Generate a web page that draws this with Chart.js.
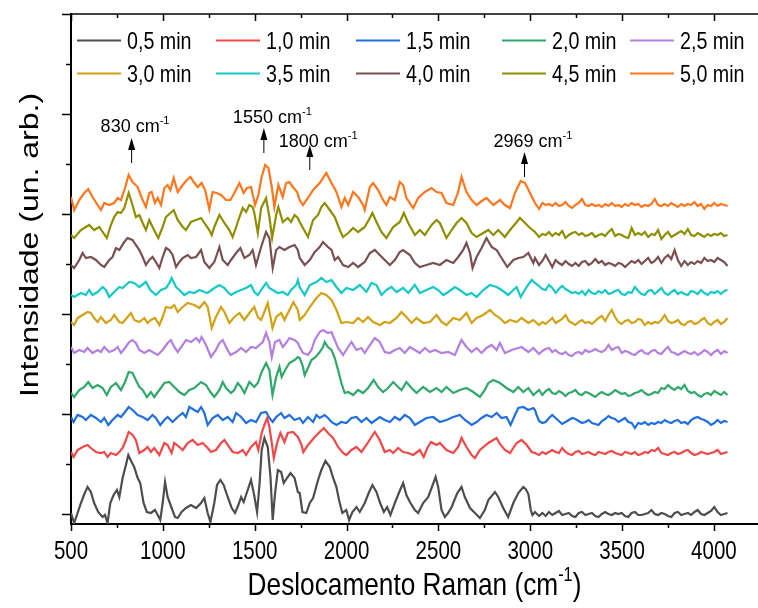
<!DOCTYPE html>
<html>
<head>
<meta charset="utf-8">
<script src="https://cdn.jsdelivr.net/npm/chart.js@4/dist/chart.umd.min.js"></script>
<style>
  html, body { margin: 0; padding: 0; background: #fff; }
  canvas { display: block; }
</style>
</head>
<body>
<canvas id="raman" width="758" height="608"></canvas>
<script>
// Raman spectra recorded every 0,5 min, stacked with a vertical offset.
// Each trace: [Raman shift (cm-1), intensity (arb. units, offset included)]
const trace05 = [[500,0.1],[517,-0.9],[536,0.1],[554,1.1],[575,2.1],[590,2.7],[608,2.2],[626,1.1],[648,0.2],[672,-0.3],[685,-0.1],[699,-0.9],[714,1.1],[732,1.9],[750,2.4],[763,1.7],[781,3.6],[799,4.9],[812,5.9],[830,5.2],[844,4.7],[863,3.6],[877,3.1],[895,1.1],[913,0.2],[935,0.1],[957,0.4],[972,-0.1],[986,-0.6],[999,1.1],[1012,3.2],[1026,1.7],[1048,0.6],[1066,-0.3],[1081,-0.4],[1102,0.2],[1126,0.6],[1153,0.9],[1181,0.6],[1208,1.1],[1226,1.6],[1244,0.1],[1259,-0.8],[1280,1.1],[1295,2.9],[1313,3.4],[1331,2.9],[1353,1.7],[1375,0.6],[1393,0.1],[1411,0.9],[1426,1.7],[1440,1.2],[1462,2.4],[1480,3.4],[1495,2.1],[1513,0.2],[1526,2.9],[1538,6.4],[1553,7.6],[1571,6.7],[1586,3.7],[1598,-0.6],[1611,2.1],[1626,4.4],[1644,4.2],[1658,3.1],[1676,3.6],[1695,4.1],[1717,3.6],[1735,2.2],[1745,2.1],[1760,0.2],[1781,0.1],[1800,1.1],[1818,1.6],[1845,3.4],[1863,4.4],[1885,5.3],[1909,4.7],[1927,3.6],[1945,2.7],[1959,1.4],[1977,0.1],[1999,0.4],[2014,-0.6],[2032,0.2],[2054,0.7],[2072,0.2],[2099,1.1],[2123,2.2],[2141,2.9],[2163,2.2],[2181,1.2],[2203,0.2],[2221,0.7],[2239,-0.1],[2263,1.1],[2287,2.2],[2308,3.1],[2326,1.9],[2345,1.2],[2372,0.4],[2390,0.1],[2417,1.1],[2445,1.7],[2485,3.7],[2499,2.7],[2517,0.4],[2535,-0.3],[2553,0.1],[2572,0.7],[2603,2.1],[2626,2.7],[2644,1.7],[2672,0.6],[2699,0.1],[2726,-0.4],[2753,0.4],[2772,1.4],[2808,2.2],[2826,1.7],[2853,0.6],[2880,-0.3],[2908,1.1],[2935,2.1],[2962,2.7],[2975,2.5],[2990,2.0],[3003,0.4],[3012,-0.1],[3026,0.2],
  [3048,-0.2],[3066,0.1],[3084,-0.2],[3102,0.2],[3120,-0.1],[3138,0.1],[3156,0.3],[3174,-0.1],[3192,0.0],[3210,0.1],[3228,-0.2],[3246,-0.3],[3264,0.1],[3282,0.2],[3300,-0.1],[3318,0.0],[3336,0.1],[3354,-0.2],[3372,-0.3],[3390,0.0],[3408,0.2],[3426,0.0],[3444,-0.1],[3462,0.1],[3480,0.0],[3498,0.1],[3516,-0.2],[3534,-0.3],[3552,0.1],[3570,0.2],[3588,-0.1],[3606,-0.1],[3624,0.0],[3642,0.1],[3660,0.4],[3678,0.0],[3696,-0.1],[3714,0.1],[3732,0.0],[3750,-0.2],[3768,-0.3],[3786,0.1],[3804,0.2],[3822,-0.1],[3840,0.0],[3858,0.1],[3876,-0.1],[3894,0.2],[3912,0.4],[3930,0.0],[3948,-0.1],[3966,0.1],[3984,0.3],[4002,0.7],[4020,0.2],[4038,-0.1],[4056,0.0],[4074,0.1]];

const trace10 = [[500,6.2],[514,5.7],[536,6.4],[563,6.7],[590,6.9],[608,6.6],[636,6.2],[663,6.1],[681,6.2],[699,5.7],[717,6.1],[745,5.9],[763,6.2],[781,6.6],[799,7.4],[814,8.2],[835,7.9],[853,7.4],[872,6.1],[899,6.4],[917,6.7],[935,6.2],[953,6.6],[981,5.9],[1008,7.1],[1026,6.9],[1048,6.1],[1062,7.1],[1090,6.7],[1108,6.4],[1135,7.1],[1162,7.4],[1190,6.9],[1217,7.1],[1244,6.6],[1262,6.2],[1289,6.4],[1317,7.1],[1335,7.4],[1353,6.9],[1380,6.2],[1408,6.1],[1435,6.4],[1453,5.9],[1480,6.7],[1507,7.2],[1520,6.4],[1538,8.1],[1557,9.1],[1568,9.6],[1580,8.7],[1593,7.1],[1604,5.6],[1622,7.1],[1640,8.1],[1662,7.2],[1680,8.1],[1708,8.2],[1735,7.7],[1753,7.0],[1765,6.2],[1790,6.9],[1827,7.7],[1854,8.2],[1876,8.6],[1899,8.1],[1927,7.6],[1954,6.7],[1981,6.1],[1999,5.9],[2027,6.4],[2054,6.7],[2081,6.2],[2108,6.9],[2136,7.7],[2154,8.2],[2181,7.4],[2208,6.2],[2236,6.4],[2254,6.1],[2281,6.6],[2308,6.2],[2336,6.1],[2363,5.9],[2399,6.4],[2420,5.7],[2440,6.6],[2460,7.2],[2490,6.9],[2508,7.1],[2544,6.4],[2581,6.1],[2608,6.7],[2626,7.6],[2653,6.7],[2681,5.9],[2699,5.6],[2726,6.4],[2772,7.1],[2799,7.4],[2817,7.6],[2835,7.0],[2862,6.4],[2890,6.1],[2926,7.1],[2953,7.4],[2981,6.9],[3008,6.2],[3026,6.1],
  [3048,5.9],[3066,6.2],[3084,6.0],[3102,6.2],[3120,6.4],[3138,6.2],[3156,6.1],[3174,6.6],[3192,6.2],[3210,6.0],[3228,5.9],[3246,6.2],[3264,6.3],[3282,6.0],[3300,6.1],[3318,6.2],[3336,6.0],[3354,5.9],[3372,6.2],[3390,6.1],[3408,6.0],[3426,6.2],[3444,6.3],[3462,6.1],[3480,6.0],[3498,5.9],[3516,6.2],[3534,6.1],[3552,6.0],[3570,6.2],[3588,5.9],[3606,6.0],[3624,6.2],[3642,6.1],[3660,6.4],[3678,6.3],[3696,6.6],[3714,6.1],[3732,6.0],[3750,5.9],[3768,6.1],[3786,6.2],[3804,6.0],[3822,6.1],[3840,6.3],[3858,6.4],[3876,6.1],[3894,5.9],[3912,6.0],[3930,6.2],[3948,6.1],[3966,6.0],[3984,6.1],[4002,6.2],[4020,6.4],[4038,6.0],[4056,6.1],[4074,6.2]];

const trace15 = [[500,9.7],[514,9.2],[536,9.9],[563,9.7],[581,9.4],[608,9.9],[636,9.6],[663,9.2],[681,9.6],[703,8.9],[726,9.4],[754,9.9],[772,9.7],[794,10.2],[814,10.7],[835,10.4],[863,9.9],[890,9.7],[917,9.4],[944,9.9],[962,9.6],[986,8.9],[1008,9.4],[1026,9.7],[1053,9.2],[1081,9.7],[1108,10.1],[1126,9.7],[1144,10.7],[1171,10.4],[1190,10.2],[1208,10.7],[1226,10.1],[1244,8.9],[1271,9.6],[1299,9.9],[1326,9.4],[1353,9.7],[1380,9.2],[1399,10.1],[1426,9.7],[1453,9.1],[1480,9.4],[1507,9.2],[1535,10.1],[1562,10.2],[1580,9.6],[1598,9.2],[1617,9.7],[1644,10.1],[1662,9.6],[1689,9.9],[1717,9.4],[1745,9.6],[1763,9.1],[1790,9.7],[1818,9.2],[1836,9.9],[1854,9.6],[1881,9.9],[1899,9.6],[1918,9.2],[1945,8.9],[1972,9.2],[1999,9.1],[2027,9.6],[2054,9.7],[2081,9.2],[2108,9.6],[2136,9.1],[2181,9.7],[2208,9.4],[2236,9.2],[2263,9.7],[2290,9.4],[2317,9.9],[2345,9.6],[2372,8.9],[2399,9.2],[2435,9.6],[2472,9.7],[2508,9.2],[2544,9.4],[2581,9.7],[2617,9.9],[2645,9.4],[2681,8.9],[2708,9.2],[2735,9.6],[2762,9.9],[2790,9.7],[2817,10.1],[2844,9.6],[2871,9.7],[2893,8.9],[2917,9.9],[2935,10.6],[2962,10.7],[2990,10.4],[3017,10.6],[3026,10.4],[3035,9.9],
  [3048,9.3],[3066,9.1],[3084,9.2],[3102,9.6],[3120,9.9],[3138,9.6],[3156,9.3],[3174,9.0],[3192,9.2],[3210,9.4],[3228,9.6],[3246,9.5],[3264,9.3],[3282,9.1],[3300,9.2],[3318,9.4],[3336,9.1],[3354,9.0],[3372,8.9],[3390,9.3],[3408,9.5],[3426,9.8],[3444,9.6],[3462,9.5],[3480,9.2],[3498,9.4],[3516,9.6],[3534,9.2],[3552,9.1],[3570,8.6],[3588,9.1],[3606,9.0],[3624,9.2],[3642,8.9],[3660,9.1],[3678,9.0],[3696,9.2],[3714,9.1],[3732,9.4],[3750,9.2],[3768,9.1],[3786,9.3],[3804,9.4],[3822,9.1],[3840,9.2],[3858,9.0],[3876,9.4],[3894,9.6],[3912,9.7],[3930,9.5],[3948,9.4],[3966,9.2],[3984,8.9],[4002,9.1],[4020,9.4],[4038,9.1],[4056,9.3],[4074,9.2]];

const trace20 = [[500,12.1],[517,11.7],[545,12.4],[572,12.7],[594,13.2],[617,12.6],[645,12.9],[672,12.6],[695,11.9],[717,12.7],[745,13.1],[772,12.4],[794,13.2],[814,14.2],[835,14.1],[853,13.4],[872,12.7],[890,12.4],[913,11.7],[935,12.2],[953,11.7],[981,12.4],[1008,13.1],[1035,13.2],[1062,12.7],[1090,12.2],[1117,11.9],[1144,12.4],[1171,12.6],[1208,13.2],[1235,12.9],[1259,12.2],[1280,11.7],[1308,12.4],[1326,13.2],[1344,12.6],[1371,12.1],[1389,12.4],[1408,13.1],[1426,12.7],[1444,12.1],[1471,13.2],[1498,12.7],[1517,13.1],[1538,14.2],[1562,15.1],[1580,14.4],[1597,11.9],[1617,13.7],[1635,14.7],[1647,13.7],[1666,14.4],[1689,15.1],[1717,15.4],[1735,15.7],[1745,15.6],[1760,14.9],[1772,13.9],[1790,14.6],[1809,15.4],[1832,15.7],[1854,16.2],[1872,16.7],[1881,17.2],[1899,16.7],[1918,16.4],[1936,15.6],[1954,14.4],[1972,13.1],[1990,12.1],[2009,12.2],[2036,11.9],[2063,12.4],[2090,12.1],[2117,12.6],[2148,13.4],[2172,12.7],[2199,12.2],[2226,12.6],[2254,13.2],[2281,12.7],[2299,12.4],[2326,13.2],[2354,12.6],[2381,12.1],[2417,12.7],[2454,12.2],[2490,12.6],[2517,12.2],[2544,12.7],[2581,12.1],[2617,12.4],[2653,12.6],[2690,12.2],[2726,11.7],[2753,12.4],[2772,13.1],[2799,13.4],[2835,13.1],[2871,12.6],[2908,12.2],[2935,12.7],[2962,12.2],[2990,12.6],[3017,11.9],
  [3048,12.4],[3066,11.9],[3084,12.3],[3102,12.5],[3120,12.1],[3138,12.0],[3156,12.3],[3174,12.1],[3192,11.8],[3210,12.1],[3228,12.2],[3246,12.4],[3264,12.0],[3282,11.9],[3300,12.2],[3318,12.1],[3336,11.9],[3354,11.7],[3372,12.0],[3390,12.2],[3408,12.0],[3426,11.9],[3444,12.1],[3462,12.4],[3480,12.2],[3498,12.0],[3516,12.1],[3534,11.8],[3552,11.9],[3570,12.1],[3588,12.2],[3606,12.4],[3624,12.1],[3642,11.9],[3660,12.0],[3678,12.2],[3696,12.1],[3714,12.6],[3732,12.5],[3750,12.9],[3768,12.6],[3786,12.4],[3804,12.7],[3822,12.5],[3840,12.9],[3858,12.3],[3876,12.1],[3894,12.2],[3912,11.9],[3930,11.7],[3948,12.0],[3966,12.1],[3984,11.9],[4002,12.3],[4020,12.1],[4038,11.9],[4056,12.2],[4074,11.9]];

const trace25 = [[500,16.7],[517,16.1],[545,16.4],[572,16.2],[590,16.6],[617,16.1],[645,16.4],[663,16.2],[681,16.7],[708,16.2],[735,16.4],[754,16.7],[772,16.1],[794,16.6],[817,17.2],[835,17.4],[853,17.1],[872,16.4],[899,16.1],[926,16.4],[953,16.1],[972,15.9],[999,16.4],[1026,17.1],[1044,17.4],[1062,16.7],[1081,16.2],[1108,16.9],[1126,17.4],[1153,17.2],[1181,17.6],[1199,17.2],[1211,17.7],[1235,16.9],[1262,15.7],[1289,16.4],[1308,17.1],[1326,17.4],[1344,16.7],[1368,15.9],[1399,16.2],[1426,16.6],[1453,16.2],[1480,16.7],[1507,16.6],[1544,17.2],[1562,18.1],[1580,17.2],[1593,15.7],[1611,17.2],[1635,17.4],[1653,16.7],[1671,17.1],[1689,17.6],[1717,17.4],[1735,17.1],[1745,16.7],[1763,16.1],[1790,15.9],[1809,16.4],[1827,17.4],[1854,18.2],[1872,18.4],[1899,18.1],[1918,18.2],[1936,17.4],[1954,16.6],[1981,15.9],[2009,16.7],[2027,17.2],[2054,16.4],[2081,16.6],[2099,16.1],[2127,16.9],[2154,17.6],[2181,17.2],[2208,16.2],[2236,16.1],[2263,16.4],[2290,16.6],[2317,16.1],[2345,16.7],[2372,16.4],[2399,16.1],[2426,16.6],[2454,16.2],[2481,16.4],[2517,16.1],[2554,16.2],[2590,15.9],[2608,16.7],[2626,17.4],[2653,16.7],[2681,16.2],[2708,16.6],[2735,16.1],[2762,16.6],[2790,16.9],[2817,16.4],[2835,17.1],[2862,16.1],[2899,16.4],[2935,16.6],[2953,16.7],[2990,16.2],[3017,16.6],
  [3048,16.0],[3066,16.3],[3084,16.5],[3102,16.6],[3120,16.2],[3138,16.4],[3156,16.1],[3174,16.0],[3192,16.2],[3210,15.9],[3228,15.8],[3246,16.1],[3264,16.2],[3282,16.0],[3300,16.4],[3318,16.2],[3336,16.3],[3354,16.5],[3372,16.3],[3390,16.2],[3408,16.4],[3426,16.9],[3444,16.4],[3462,16.6],[3480,16.7],[3498,16.1],[3516,16.3],[3534,16.2],[3552,16.0],[3570,15.9],[3588,16.2],[3606,16.4],[3624,16.1],[3642,16.0],[3660,16.3],[3678,16.4],[3696,16.1],[3714,16.0],[3732,16.4],[3750,16.7],[3768,16.2],[3786,16.1],[3804,15.9],[3822,16.1],[3840,16.3],[3858,16.1],[3876,16.0],[3894,16.2],[3912,15.9],[3930,16.1],[3948,16.4],[3966,16.2],[3984,15.9],[4002,16.2],[4020,16.4],[4038,16.0],[4056,16.3],[4074,16.1]];

const trace30 = [[500,19.2],[517,18.9],[536,19.6],[563,19.9],[590,20.2],[608,20.1],[626,19.6],[645,19.2],[663,19.7],[690,19.1],[717,19.4],[735,19.9],[763,19.2],[781,19.1],[808,19.7],[826,20.1],[844,19.4],[872,19.2],[899,19.6],[917,19.1],[935,19.4],[957,19.6],[981,18.9],[999,19.7],[1017,20.7],[1044,20.6],[1062,20.9],[1081,20.2],[1108,20.7],[1135,21.1],[1171,20.9],[1199,20.6],[1226,21.2],[1244,20.7],[1266,18.6],[1289,19.7],[1317,20.7],[1335,20.2],[1362,19.1],[1389,19.7],[1417,20.1],[1444,19.4],[1471,20.1],[1498,20.7],[1517,19.7],[1535,19.4],[1557,20.4],[1571,21.1],[1586,19.7],[1597,18.6],[1617,19.7],[1644,20.1],[1662,19.4],[1689,20.4],[1711,21.2],[1735,20.4],[1745,19.4],[1772,19.9],[1800,20.7],[1836,21.6],[1863,22.1],[1890,21.9],[1918,21.4],[1945,20.4],[1972,19.1],[1999,19.2],[2036,19.1],[2063,19.6],[2090,19.2],[2117,19.7],[2145,19.2],[2181,18.9],[2208,19.2],[2236,19.1],[2272,19.6],[2299,20.2],[2326,19.7],[2354,19.1],[2381,19.6],[2417,19.1],[2454,19.2],[2490,19.9],[2517,19.2],[2544,18.9],[2581,19.6],[2617,19.4],[2653,20.1],[2681,19.1],[2708,19.6],[2744,19.9],[2781,20.4],[2808,19.9],[2835,19.6],[2862,19.1],[2890,19.4],[2926,19.2],[2953,19.6],[2990,19.1],[3017,19.4],
  [3048,18.9],[3066,19.2],[3084,19.0],[3102,19.3],[3120,19.6],[3138,19.1],[3156,19.3],[3174,19.5],[3192,19.9],[3210,19.3],[3228,19.1],[3246,18.9],[3264,19.2],[3282,19.4],[3300,19.1],[3318,19.2],[3336,19.0],[3354,19.3],[3372,19.6],[3390,19.8],[3408,19.3],[3426,19.9],[3444,20.4],[3462,19.7],[3480,19.2],[3498,19.0],[3516,19.3],[3534,19.4],[3552,19.1],[3570,19.2],[3588,19.5],[3606,19.4],[3624,18.9],[3642,19.2],[3660,19.0],[3678,19.2],[3696,19.1],[3714,19.4],[3732,19.9],[3750,19.3],[3768,19.1],[3786,19.2],[3804,19.4],[3822,19.0],[3840,18.9],[3858,19.2],[3876,19.3],[3894,19.0],[3912,19.1],[3930,19.4],[3948,19.6],[3966,19.1],[3984,18.9],[4002,19.2],[4020,19.4],[4038,19.0],[4056,19.2],[4074,19.6]];

const trace35 = [[500,21.9],[517,21.7],[554,22.1],[581,21.9],[599,22.4],[617,21.9],[645,22.2],[672,22.7],[690,22.4],[708,21.7],[735,22.2],[763,22.7],[781,22.6],[799,22.9],[817,23.2],[844,23.1],[872,22.7],[908,23.2],[932,22.4],[962,21.9],[990,22.4],[1017,22.6],[1035,23.1],[1048,23.6],[1072,22.7],[1090,22.4],[1117,21.9],[1144,22.2],[1171,22.1],[1199,22.4],[1226,22.2],[1244,22.1],[1280,22.6],[1308,22.9],[1335,22.6],[1353,22.2],[1371,21.9],[1399,22.2],[1426,22.4],[1453,22.6],[1480,22.9],[1498,22.2],[1517,21.9],[1535,22.4],[1562,23.1],[1580,22.6],[1598,22.4],[1626,22.1],[1653,22.2],[1680,21.9],[1698,22.4],[1726,22.9],[1735,23.4],[1745,22.7],[1772,21.9],[1800,22.9],[1836,23.2],[1863,23.6],[1890,23.2],[1918,23.4],[1945,22.7],[1972,22.1],[1999,22.6],[2036,22.4],[2072,22.9],[2108,22.2],[2136,23.1],[2163,22.9],[2190,21.9],[2217,22.4],[2244,22.7],[2272,22.2],[2308,22.6],[2336,22.1],[2372,22.9],[2399,22.1],[2435,22.4],[2472,22.7],[2499,22.4],[2526,21.9],[2554,22.2],[2590,22.7],[2617,22.4],[2653,21.9],[2681,22.1],[2708,21.7],[2744,22.4],[2781,22.9],[2817,22.7],[2844,22.4],[2880,21.9],[2908,22.4],[2926,22.7],[2948,21.7],[2980,22.7],[3008,23.4],[3026,23.1],
  [3048,22.8],[3066,22.5],[3084,22.4],[3102,22.9],[3120,22.6],[3138,22.1],[3156,22.5],[3174,22.8],[3192,22.5],[3210,22.3],[3228,22.1],[3246,22.2],[3264,22.0],[3282,22.3],[3300,21.9],[3318,22.4],[3336,22.1],[3354,22.0],[3372,22.3],[3390,22.1],[3408,22.4],[3426,22.0],[3444,22.1],[3462,22.3],[3480,22.4],[3498,22.0],[3516,21.9],[3534,22.2],[3552,22.1],[3570,22.7],[3588,22.3],[3606,22.0],[3624,21.9],[3642,22.3],[3660,22.4],[3678,22.0],[3696,22.3],[3714,22.6],[3732,22.1],[3750,21.9],[3768,22.2],[3786,22.4],[3804,22.0],[3822,22.2],[3840,22.0],[3858,21.9],[3876,22.3],[3894,22.2],[3912,22.0],[3930,22.4],[3948,22.1],[3966,21.9],[3984,22.2],[4002,22.1],[4020,22.3],[4038,22.0],[4056,22.3],[4074,22.4]];

const trace40 = [[500,24.9],[517,24.6],[545,25.4],[563,26.1],[581,25.6],[608,25.7],[636,25.4],[663,24.9],[681,24.7],[708,25.4],[726,25.7],[745,26.6],[763,26.4],[790,27.2],[808,27.6],[835,27.4],[853,26.9],[872,26.4],[890,25.7],[908,24.9],[926,25.4],[944,25.7],[962,25.2],[981,24.6],[999,25.7],[1017,26.6],[1035,26.4],[1053,25.9],[1072,24.7],[1090,25.2],[1108,25.6],[1135,25.9],[1153,25.6],[1181,25.7],[1208,26.4],[1226,25.2],[1253,24.6],[1280,25.2],[1308,26.7],[1326,25.4],[1353,24.9],[1371,25.4],[1399,26.1],[1422,26.6],[1444,25.6],[1471,25.9],[1489,26.4],[1507,24.9],[1535,26.7],[1562,28.2],[1580,27.6],[1598,24.6],[1617,26.4],[1635,26.7],[1662,26.4],[1689,26.7],[1717,26.9],[1735,26.4],[1745,25.6],[1772,24.9],[1800,25.4],[1827,26.2],[1854,26.7],[1872,27.2],[1899,26.7],[1918,26.4],[1936,25.4],[1954,25.7],[1981,24.9],[2009,24.7],[2036,25.1],[2063,24.7],[2099,25.2],[2127,26.1],[2154,26.4],[2181,25.9],[2208,25.4],[2236,24.9],[2263,25.4],[2290,26.2],[2308,26.4],[2345,25.9],[2372,25.1],[2399,24.7],[2435,24.9],[2472,25.1],[2508,24.9],[2544,25.4],[2581,25.1],[2608,25.7],[2635,26.4],[2653,27.1],[2672,26.1],[2686,24.6],[2708,25.7],[2735,26.6],[2762,27.6],[2790,26.7],[2817,26.4],[2844,25.6],[2875,24.7],[2908,25.4],[2935,25.6],[2962,25.7],[2990,26.1],[3017,25.1],[3026,25.6],
  [3048,24.9],[3066,25.3],[3084,25.9],[3102,25.3],[3120,24.7],[3138,25.4],[3156,25.1],[3174,24.9],[3192,25.3],[3210,25.0],[3228,24.8],[3246,25.1],[3264,24.8],[3282,25.2],[3300,25.3],[3318,24.9],[3336,25.1],[3354,25.5],[3372,25.1],[3390,25.3],[3408,24.9],[3426,25.1],[3444,25.0],[3462,24.8],[3480,25.1],[3498,25.0],[3516,24.7],[3534,25.0],[3552,25.3],[3570,25.1],[3588,25.4],[3606,25.0],[3624,25.3],[3642,25.6],[3660,25.1],[3678,25.3],[3696,25.7],[3714,25.1],[3732,25.6],[3750,25.9],[3768,25.5],[3786,26.4],[3804,25.4],[3822,24.8],[3840,25.3],[3858,24.9],[3876,25.2],[3894,25.0],[3912,25.3],[3930,25.1],[3948,25.6],[3966,25.3],[3984,25.4],[4002,25.2],[4020,25.6],[4038,25.4],[4056,25.2],[4074,24.8]];

const trace45 = [[500,27.9],[517,27.6],[554,28.4],[581,28.7],[599,28.9],[626,28.4],[654,28.7],[672,28.2],[695,27.6],[717,28.9],[735,29.7],[754,30.2],[772,30.1],[790,30.6],[814,32.1],[835,30.9],[853,29.7],[872,29.9],[890,29.1],[908,28.4],[926,29.4],[944,28.7],[975,27.6],[999,28.7],[1017,29.7],[1059,30.4],[1081,29.4],[1108,28.7],[1126,28.4],[1153,29.2],[1181,29.4],[1208,29.6],[1226,29.1],[1253,28.4],[1266,27.9],[1280,28.7],[1308,29.9],[1335,29.1],[1362,28.4],[1380,27.7],[1399,28.7],[1417,29.7],[1435,30.6],[1453,30.2],[1471,30.9],[1489,30.7],[1498,30.1],[1517,28.1],[1535,30.6],[1562,31.6],[1580,29.7],[1595,27.6],[1617,29.9],[1629,30.7],[1653,29.2],[1680,29.6],[1698,29.2],[1717,29.9],[1735,29.6],[1745,29.2],[1763,28.6],[1790,27.7],[1818,29.4],[1845,29.9],[1863,30.7],[1881,31.1],[1909,30.4],[1936,29.7],[1963,28.4],[1981,27.7],[2009,28.1],[2036,28.6],[2063,28.2],[2099,28.7],[2127,29.6],[2141,30.1],[2163,29.2],[2190,28.2],[2217,27.6],[2254,28.7],[2290,29.2],[2312,30.1],[2336,29.1],[2372,27.9],[2399,28.4],[2426,27.9],[2463,28.9],[2490,29.4],[2508,29.1],[2544,27.6],[2572,28.4],[2599,29.1],[2626,29.6],[2653,29.1],[2681,28.1],[2708,27.7],[2744,28.1],[2772,28.4],[2799,27.9],[2826,28.4],[2862,27.7],[2890,28.4],[2922,29.1],[2944,29.6],[2972,29.1],[2999,28.6],[3026,28.2],
  [3048,27.7],[3066,28.0],[3084,27.9],[3102,28.2],[3120,27.8],[3138,28.1],[3156,27.9],[3174,28.3],[3192,27.6],[3210,27.9],[3228,28.1],[3246,28.2],[3264,27.9],[3282,28.1],[3300,27.8],[3318,27.9],[3336,28.1],[3354,27.7],[3372,27.9],[3390,28.0],[3408,27.8],[3426,28.2],[3444,28.5],[3462,27.8],[3480,28.0],[3498,27.9],[3516,27.7],[3534,27.6],[3552,28.6],[3570,27.9],[3588,28.1],[3606,27.9],[3624,28.2],[3642,27.7],[3660,28.0],[3678,27.9],[3696,28.4],[3714,27.5],[3732,27.9],[3750,28.2],[3768,27.7],[3786,27.9],[3804,28.1],[3822,28.3],[3840,28.0],[3858,28.5],[3876,27.9],[3894,27.8],[3912,28.1],[3930,27.9],[3948,27.7],[3966,28.0],[3984,27.8],[4002,28.0],[4020,27.9],[4038,28.1],[4056,27.8],[4074,27.9]];

const trace50 = [[500,31.7],[517,30.4],[545,31.4],[572,32.1],[594,32.5],[617,31.7],[645,30.9],[663,30.4],[681,31.1],[708,30.9],[735,31.1],[754,31.6],[772,31.4],[794,32.6],[814,33.9],[835,33.2],[863,32.7],[890,31.4],[908,30.7],[926,32.1],[939,32.2],[957,31.1],[972,31.6],[990,30.9],[1008,32.6],[1026,32.9],[1041,32.4],[1059,33.6],[1081,32.2],[1108,32.9],[1131,33.4],[1150,33.7],[1168,33.2],[1190,32.7],[1211,33.1],[1230,32.4],[1253,30.5],[1271,32.2],[1293,32.1],[1317,31.9],[1344,31.4],[1368,31.4],[1389,32.1],[1417,33.1],[1440,32.1],[1458,32.6],[1480,32.7],[1502,30.9],[1520,31.9],[1538,33.7],[1557,34.9],[1575,34.6],[1593,32.7],[1607,30.7],[1629,32.9],[1653,31.7],[1671,33.1],[1689,33.2],[1708,32.7],[1731,32.2],[1745,31.4],[1763,30.9],[1790,31.6],[1818,32.4],[1854,33.1],[1890,34.1],[1918,33.1],[1945,32.2],[1972,30.7],[1990,31.6],[2009,30.9],[2036,32.2],[2063,31.7],[2090,30.9],[2099,30.4],[2127,32.7],[2145,33.1],[2172,32.4],[2199,31.4],[2217,30.9],[2236,31.7],[2263,31.4],[2290,33.2],[2308,32.9],[2326,31.6],[2363,30.6],[2390,31.6],[2426,32.2],[2463,32.6],[2490,32.2],[2517,32.1],[2544,31.1],[2581,30.9],[2608,32.2],[2626,33.7],[2653,32.2],[2681,31.4],[2708,30.9],[2744,31.4],[2762,31.6],[2799,30.9],[2835,31.4],[2862,30.9],[2890,30.6],[2917,32.1],[2948,33.3],[2972,33.1],[2999,32.1],[3026,31.1],
  [3048,30.5],[3066,31.1],[3084,30.9],[3102,31.0],[3120,30.8],[3138,31.1],[3156,30.8],[3174,30.9],[3192,31.2],[3210,30.8],[3228,30.6],[3246,30.9],[3264,31.1],[3282,31.5],[3300,30.9],[3318,30.8],[3336,31.0],[3354,30.8],[3372,30.9],[3390,30.7],[3408,31.0],[3426,30.8],[3444,31.1],[3462,30.8],[3480,30.9],[3498,30.7],[3516,31.0],[3534,30.8],[3552,31.1],[3570,30.9],[3588,31.0],[3606,30.7],[3624,30.9],[3642,30.8],[3660,31.0],[3678,31.5],[3696,30.9],[3714,30.8],[3732,31.0],[3750,30.8],[3768,31.1],[3786,30.9],[3804,30.7],[3822,31.0],[3840,30.8],[3858,31.0],[3876,30.9],[3894,31.2],[3912,30.8],[3930,31.0],[3948,30.5],[3966,30.9],[3984,30.8],[4002,31.1],[4020,30.8],[4038,31.0],[4056,30.9],[4074,30.8]];

const seriesLabels = ['0,5 min', '1,0 min', '1,5 min', '2,0 min', '2,5 min',
                      '3,0 min', '3,5 min', '4,0 min', '4,5 min', '5,0 min'];
const seriesColors = ['#4d4d4d', '#f04848', '#1f6fe0', '#2fa86a', '#b47fe0',
                      '#d2a114', '#14c8c8', '#7a4f4f', '#8e8e00', '#ff761c'];
const traces = [trace05, trace10, trace15, trace20, trace25,
                trace30, trace35, trace40, trace45, trace50];

// marked bands
const peakShifts = [830, 1550, 1800, 2969];
const peakLabelLevel = [38.2, 39.1, 36.7, 36.7];
const peakArrowTip = [37.6, 38.6, 36.9, 36.2];
const peakArrowTail = [35.1, 36.1, 34.4, 33.7];

const shiftTicks = [500, 1000, 1500, 2000, 2500, 3000, 3500, 4000];

const FONT = '"Liberation Sans", Arial, Helvetica, sans-serif';
const SQUEEZE = 0.82;

function partsWidth(ctx, parts, size) {
  let w = 0;
  for (const [t, sup] of parts) {
    ctx.font = (sup ? size * 0.62 : size) + 'px ' + FONT;
    w += ctx.measureText(t).width;
  }
  return w;
}
function drawParts(ctx, parts, size, x, y, align, sx, rotate) {
  ctx.save();
  ctx.translate(x, y);
  if (rotate) { ctx.rotate(rotate); ctx.scale(1, sx); } else { ctx.scale(sx, 1); }
  const w = partsWidth(ctx, parts, size);
  let cx = align === 'center' ? -w / 2 : (align === 'right' ? -w : 0);
  ctx.textAlign = 'left';
  ctx.textBaseline = 'alphabetic';
  ctx.fillStyle = '#000';
  for (const [t, sup] of parts) {
    ctx.font = (sup ? size * 0.62 : size) + 'px ' + FONT;
    ctx.fillText(t, cx, sup ? -size * 0.45 : 0);
    cx += ctx.measureText(t).width;
  }
  ctx.restore();
}

const frameAndText = {
  id: 'frameAndText',
  afterDraw(chart) {
    const { ctx, chartArea: a, scales: { x, y } } = chart;
    ctx.save();
    ctx.strokeStyle = '#000';
    ctx.fillStyle = '#000';

    // top frame line
    ctx.lineWidth = 1.5;
    ctx.beginPath(); ctx.moveTo(a.left, a.top); ctx.lineTo(a.right, a.top); ctx.stroke();

    // x ticks: majors on labelled values, minors half-way
    const step = shiftTicks[1] - shiftTicks[0];
    for (let v = shiftTicks[0]; v <= x.max; v += step / 2) {
      const px = Math.round(x.getPixelForValue(v)) + 0.5;
      const major = shiftTicks.includes(v);
      ctx.beginPath(); ctx.moveTo(px, a.bottom); ctx.lineTo(px, a.bottom + (major ? 7 : 4)); ctx.stroke();
      ctx.beginPath(); ctx.moveTo(px, a.top); ctx.lineTo(px, a.top + (major ? 7 : 4)); ctx.stroke();
    }
    // y ticks
    for (let v = 0; v <= y.max; v += 5) {
      const py = Math.round(y.getPixelForValue(v)) + 0.5;
      const major = v % 10 === 0;
      ctx.beginPath(); ctx.moveTo(a.left, py); ctx.lineTo(a.left - (major ? 9 : 5), py); ctx.stroke();
    }

    // x tick labels
    for (const v of shiftTicks) {
      drawParts(ctx, [[String(v), false]], 25, x.getPixelForValue(v), 559, 'center', SQUEEZE);
    }

    // axis titles
    drawParts(ctx, [['Deslocamento Raman (cm', false], ['-1', true], [')', false]],
      32, (a.left + a.right) / 2, 595, 'center', SQUEEZE);
    drawParts(ctx, [['Intensidade (un. arb.)', false]], 32, 38, 245, 'center', SQUEEZE, -Math.PI / 2);

    // legend, two rows of five
    const cols = [77, 216, 356, 502, 630];
    const rows = [40, 73];
    chart.data.datasets.forEach((ds, i) => {
      const cx = cols[i % 5], cy = rows[Math.floor(i / 5)];
      ctx.strokeStyle = ds.borderColor;
      ctx.lineWidth = 2;
      ctx.beginPath(); ctx.moveTo(cx, cy + 0.5); ctx.lineTo(cx + 44, cy + 0.5); ctx.stroke();
      drawParts(ctx, [[ds.label, false]], 24, cx + 50, cy + 8.5, 'left', SQUEEZE);
    });

    // band markers
    ctx.strokeStyle = '#000';
    ctx.fillStyle = '#000';
    peakShifts.forEach((s, i) => {
      const px = x.getPixelForValue(s);
      const tip = y.getPixelForValue(peakArrowTip[i]);
      const tail = y.getPixelForValue(peakArrowTail[i]);
      ctx.lineWidth = 1;
      ctx.beginPath(); ctx.moveTo(px, tip + 10); ctx.lineTo(px, tail); ctx.stroke();
      ctx.beginPath();
      ctx.moveTo(px, tip); ctx.lineTo(px - 3.5, tip + 12); ctx.lineTo(px + 3.5, tip + 12);
      ctx.closePath(); ctx.fill();
      drawParts(ctx, [[s + ' cm', false], ['-1', true]], 18,
        px - 31, y.getPixelForValue(peakLabelLevel[i]), 'left', 1.0);
    });
    ctx.restore();
  }
};

new Chart(document.getElementById('raman'), {
  type: 'line',
  data: {
    datasets: traces.map((t, i) => ({
      label: seriesLabels[i],
      data: t.map(([s, v]) => ({ x: s, y: v })),
      borderColor: seriesColors[i],
      borderWidth: 2.2,
      pointRadius: 0,
      tension: 0,
      fill: false
    }))
  },
  options: {
    responsive: false,
    animation: false,
    events: [],
    layout: { padding: { top: 14, right: 0, bottom: 0, left: 0 } },
    plugins: { legend: { display: false }, tooltip: { enabled: false } },
    scales: {
      x: {
        type: 'linear', min: 500, max: 4240,
        grid: { display: false },
        border: { display: true, color: '#000', width: 2 },
        ticks: { display: false },
        afterFit: (s) => { s.height = 84; }
      },
      y: {
        type: 'linear', min: -1, max: 50,
        grid: { display: false },
        border: { display: true, color: '#000', width: 2 },
        ticks: { display: false },
        afterFit: (s) => { s.width = 71; }
      }
    }
  },
  plugins: [frameAndText]
});
</script>
</body>
</html>
